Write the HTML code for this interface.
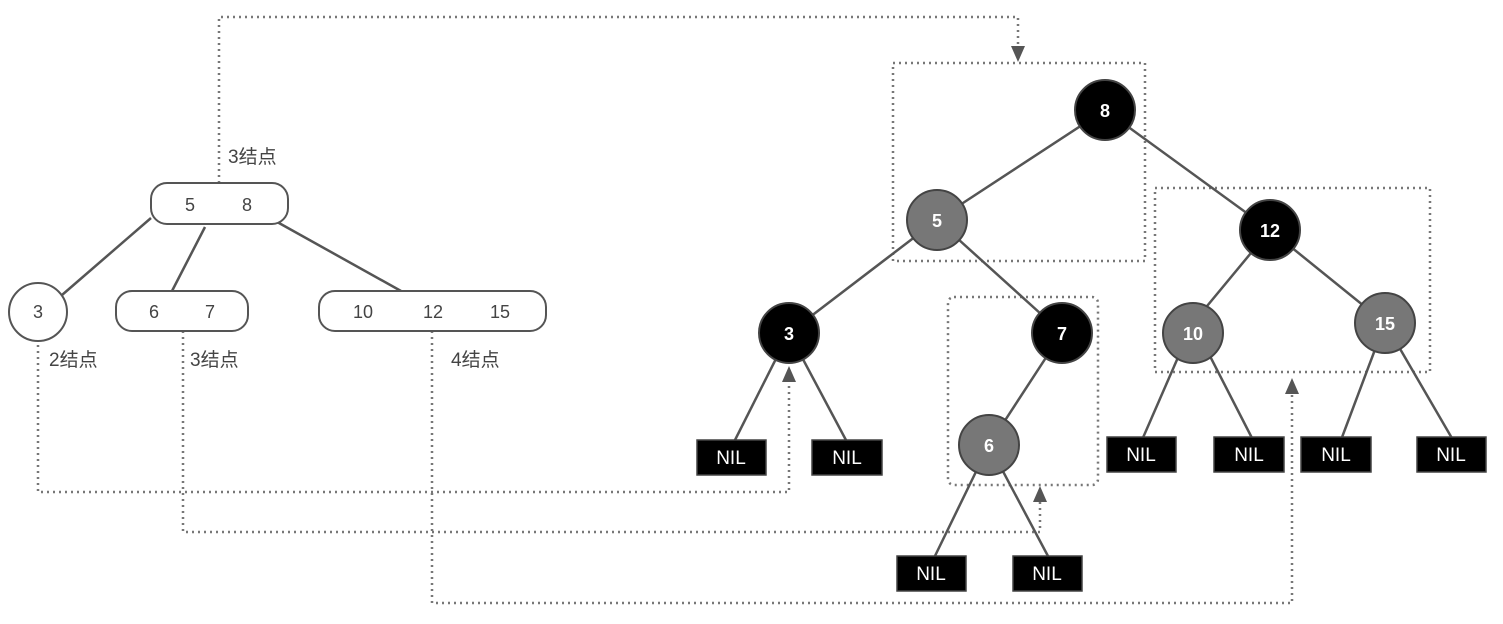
<!DOCTYPE html>
<html><head><meta charset="utf-8"><style>body{margin:0;background:#fff}</style></head><body>
<svg width="1503" height="619" xmlns="http://www.w3.org/2000/svg" font-family="Liberation Sans, Noto Sans CJK SC, sans-serif">
<g stroke="#777" stroke-width="2.5" stroke-dasharray="2,4" fill="none">
<rect x="893" y="63" width="252" height="198"/>
<rect x="948" y="297" width="150" height="188" rx="6"/>
<rect x="1155" y="188" width="275" height="184"/>
<polyline points="219,183 219,17 1018,17 1018,50"/>
<polyline points="38,345 38,492 789,492 789,378"/>
<polyline points="183,331 183,532 1040,532 1040,498"/>
<polyline points="432,331 432,603 1292,603 1292,390"/>
</g>
<g fill="#555">
<polygon points="1011,46 1025,46 1018,62"/>
<polygon points="782,382 796,382 789,366"/>
<polygon points="1033,502 1047,502 1040,486"/>
<polygon points="1285,394 1299,394 1292,378"/>
</g>
<g stroke="#555" stroke-width="2.5">
<line x1="151" y1="218" x2="62" y2="295"/><line x1="205" y1="227" x2="172" y2="291"/><line x1="270" y1="218" x2="401" y2="291"/>
<line x1="1105" y1="110" x2="937" y2="220"/><line x1="1105" y1="110" x2="1270" y2="230"/>
<line x1="937" y1="220" x2="789" y2="333"/><line x1="937" y1="220" x2="1062" y2="333"/>
<line x1="1062" y1="333" x2="989" y2="445"/>
<line x1="789" y1="333" x2="734" y2="442"/><line x1="789" y1="333" x2="847" y2="442"/>
<line x1="989" y1="445" x2="934" y2="558"/><line x1="989" y1="445" x2="1049" y2="558"/>
<line x1="1270" y1="230" x2="1193" y2="323"/><line x1="1270" y1="230" x2="1385" y2="323"/>
<line x1="1193" y1="323" x2="1142" y2="440"/><line x1="1193" y1="323" x2="1253" y2="440"/>
<line x1="1385" y1="323" x2="1341" y2="440"/><line x1="1385" y1="323" x2="1453" y2="440"/>
</g>
<g stroke="#555" stroke-width="2" fill="#fff">
<rect x="151" y="183" width="137" height="41" rx="16"/>
<circle cx="38" cy="312" r="29"/>
<rect x="116" y="291" width="132" height="40" rx="16"/>
<rect x="319" y="291" width="227" height="40" rx="16"/>
</g>
<g font-size="18" fill="#444" text-anchor="middle">
<text x="190" y="211">5</text><text x="247" y="211">8</text>
<text x="38" y="318">3</text>
<text x="154" y="318">6</text><text x="210" y="318">7</text>
<text x="363" y="318">10</text><text x="433" y="318">12</text><text x="500" y="318">15</text>
</g>
<g font-size="19" fill="#444">
<text x="228" y="163">3结点</text><text x="49" y="366">2结点</text><text x="190" y="366">3结点</text><text x="451" y="366">4结点</text>
</g>
<g stroke="#444" stroke-width="2">
<circle cx="1105" cy="110" r="30" fill="#000"/>
<circle cx="937" cy="220" r="30" fill="#777"/>
<circle cx="789" cy="333" r="30" fill="#000"/>
<circle cx="1062" cy="333" r="30" fill="#000"/>
<circle cx="989" cy="445" r="30" fill="#777"/>
<circle cx="1270" cy="230" r="30" fill="#000"/>
<circle cx="1193" cy="333" r="30" fill="#777"/>
<circle cx="1385" cy="323" r="30" fill="#777"/>
</g>
<g font-size="18" font-weight="bold" fill="#fff" text-anchor="middle">
<text x="1105" y="117">8</text><text x="937" y="227">5</text><text x="789" y="340">3</text><text x="1062" y="340">7</text>
<text x="989" y="452">6</text><text x="1270" y="237">12</text><text x="1193" y="340">10</text><text x="1385" y="330">15</text>
</g>
<g fill="#000" stroke="#444" stroke-width="1.5">
<rect x="697" y="440" width="69" height="35"/><rect x="812" y="440" width="70" height="35"/>
<rect x="897" y="556" width="69" height="35"/><rect x="1013" y="556" width="69" height="35"/>
<rect x="1107" y="437" width="69" height="35"/><rect x="1214" y="437" width="70" height="35"/>
<rect x="1301" y="437" width="70" height="35"/><rect x="1417" y="437" width="69" height="35"/>
</g>
<g font-size="19" fill="#fff" text-anchor="middle">
<text x="731" y="464">NIL</text><text x="847" y="464">NIL</text>
<text x="931" y="580">NIL</text><text x="1047" y="580">NIL</text>
<text x="1141" y="461">NIL</text><text x="1249" y="461">NIL</text>
<text x="1336" y="461">NIL</text><text x="1451" y="461">NIL</text>
</g>
</svg>
</body></html>
